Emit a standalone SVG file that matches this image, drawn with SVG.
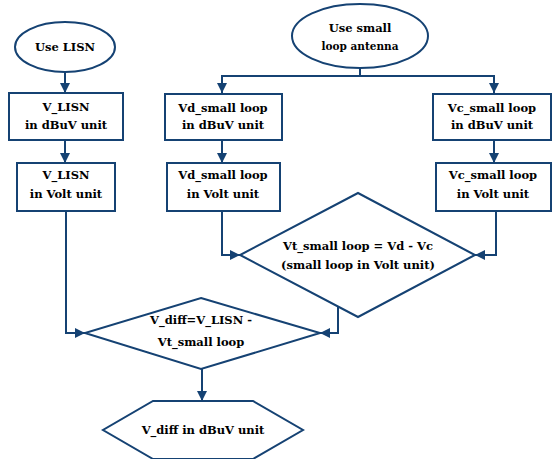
<svg xmlns="http://www.w3.org/2000/svg" width="552" height="459" viewBox="0 0 552 459">
<style>
.s{fill:#fff;stroke:#154273;stroke-width:2}
.c{fill:none;stroke:#154273;stroke-width:2}
.t{font-family:"DejaVu Serif","Liberation Serif",serif;font-size:11.5px;font-weight:bold;fill:#000;text-anchor:middle}
</style>
<defs>
<marker id="a" viewBox="0 0 10 10" refX="10" refY="5" markerWidth="5" markerHeight="5" orient="auto" markerUnits="strokeWidth">
<path d="M0,0 L10,5 L0,10 z" fill="#154273"/>
</marker>
</defs>
<g id="connectors">
<path class="c" d="M65,72 V93" marker-end="url(#a)"/>
<path class="c" d="M65,140 V163" marker-end="url(#a)"/>
<path class="c" d="M66,211 V333 H85" marker-end="url(#a)"/>
<path class="c" d="M360,68 V76"/>
<path class="c" d="M360,76 H222 V93" marker-end="url(#a)"/>
<path class="c" d="M360,76 H494 V93" marker-end="url(#a)"/>
<path class="c" d="M222,140 V163" marker-end="url(#a)"/>
<path class="c" d="M494,140 V163" marker-end="url(#a)"/>
<path class="c" d="M222,211 V255 H240" marker-end="url(#a)"/>
<path class="c" d="M496,211 V255 H475" marker-end="url(#a)"/>
<path class="c" d="M338,307 V333 H320" marker-end="url(#a)"/>
<path class="c" d="M202,369 V401" marker-end="url(#a)"/>
</g>
<g class="t">
<g id="use-lisn">
<ellipse class="s" cx="65" cy="47" rx="50" ry="25"/>
<text x="65" y="51">Use LISN</text>
</g>
<g id="v-lisn-dbuv">
<rect class="s" x="9" y="93" width="114" height="47"/>
<text x="66" y="111">V_LISN</text>
<text x="66" y="129">in dBuV unit</text>
</g>
<g id="v-lisn-volt">
<rect class="s" x="17" y="163" width="98" height="48"/>
<text x="66" y="179">V_LISN</text>
<text x="66" y="198">in Volt unit</text>
</g>
<g id="use-small-loop">
<ellipse class="s" cx="360" cy="36" rx="68" ry="32"/>
<text x="360" y="32">Use small</text>
<text x="360" y="50" font-size="10.5">loop antenna</text>
</g>
<g id="vd-dbuv">
<rect class="s" x="165" y="94" width="117" height="46"/>
<text x="223" y="112">Vd_small loop</text>
<text x="223" y="129">in dBuV unit</text>
</g>
<g id="vc-dbuv">
<rect class="s" x="433" y="94" width="118" height="46"/>
<text x="492" y="112">Vc_small loop</text>
<text x="492" y="129">in dBuV unit</text>
</g>
<g id="vd-volt">
<rect class="s" x="167" y="163" width="113" height="48"/>
<text x="223" y="179">Vd_small loop</text>
<text x="223" y="198">in Volt unit</text>
</g>
<g id="vc-volt">
<rect class="s" x="436" y="163" width="115" height="48"/>
<text x="493" y="179">Vc_small loop</text>
<text x="493" y="198">in Volt unit</text>
</g>
<g id="vt-diamond">
<polygon class="s" points="358,193 475,255 358,317 240,255"/>
<text x="358" y="250">Vt_small loop = Vd - Vc</text>
<text x="358" y="269">(small loop in Volt unit)</text>
</g>
<g id="vdiff-diamond">
<polygon class="s" points="201,298 320,333 201,369 85,333"/>
<text x="201" y="324">V_diff=V_LISN -</text>
<text x="201" y="346">Vt_small loop</text>
</g>
<g id="vdiff-dbuv">
<polygon class="s" points="153,401 253,401 303,430 253,459 153,459 103,430"/>
<text x="203" y="434">V_diff in dBuV unit</text>
</g>
</g>
</svg>
